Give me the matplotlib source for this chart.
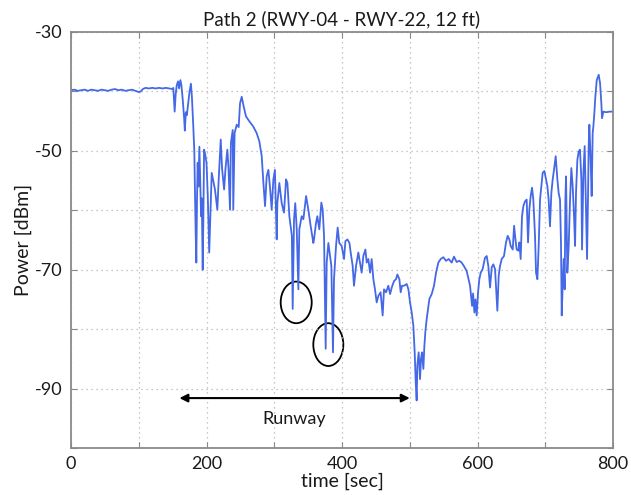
import matplotlib
matplotlib.use("Agg")
import matplotlib.pyplot as plt
from matplotlib.patches import Ellipse

plt.rcParams['font.family'] = ['Lato', 'DejaVu Sans']

title = "Path 2 (RWY-04 - RWY-22, 12 ft)"
xlabel = "time [sec]"
ylabel = "Power [dBm]"

time_s = [0, 5, 10, 15, 20, 25, 30, 35, 40, 45, 50, 55, 60, 65, 70, 75, 80, 85, 90, 95,
          100, 103, 106, 110, 115, 120, 125, 130, 135, 140, 145, 150,
          151, 153, 154.5, 156, 158, 159.5, 161.5, 163, 165, 167, 168, 169.5, 171, 173, 175, 177, 178.5,
          180.5, 182, 183, 184, 185, 186, 187, 188, 189.5, 190.5, 192, 193, 194.4, 195.5, 196.4, 198,
          200, 202, 204, 206, 207.7, 210, 212.5, 214, 216, 218, 221, 223, 226, 228, 230.8, 232.5,
          234.7, 236, 238.7, 239.5, 241.5, 244.6, 247.5, 249.5, 252, 255, 258.3, 263, 269, 274, 278,
          281.5, 284, 286.4, 288.8, 291.3, 294, 296.2, 298.7, 301, 303.6, 304.6, 307.5, 311, 314.4,
          317.4, 319.4, 322.3, 326, 327.2, 329.2, 331, 333.2, 335.6, 337, 340.5, 343, 347, 350.3,
          353.8, 357.7, 358.7, 361.7, 363.6, 366.5, 369.5, 371.5, 373.5, 375.9, 377.4, 379.9, 382.3,
          384.3, 386.7, 388.2, 391.2, 393.6, 396, 399.5, 403, 405, 408, 411, 412.8, 415.8, 417.7,
          420.7, 424.1, 426.6, 429, 431.5, 434.5, 436.5, 438.9, 441.4, 443.8, 446.3, 448.7, 451.2,
          453.7, 457, 460, 462, 465, 468.4, 471, 473.4, 476.8, 479.7, 481.7, 484.7, 486.6, 488.6,
          491.5, 495.5, 498, 500.4, 502.9, 505.3, 507.3, 508.8, 510.2, 511.2, 513.2, 515.2, 516.6,
          518.1, 520.1, 521.6, 523, 525, 527.5, 529, 532.4, 535.8, 538.8, 542.2, 545.7, 549.6, 553.5,
          557.5, 561.9, 565.3, 569.3, 573.2, 576.6, 580, 584, 589, 592, 593.5, 595.4, 597, 598.8,
          600.8, 602.7, 604.7, 607.6, 611, 613.6, 616, 618.5, 621, 623.4, 625.9, 629.3, 631.3, 633.2,
          635.7, 639.1, 642.1, 644.6, 647, 649, 652, 654, 656, 657.8, 660.3, 661.8, 663.7, 665.7,
          667.7, 670.1, 672.6, 674.6, 676.5, 678.5, 680.5, 682.4, 684.9, 686.4, 688.4, 690.3, 692.3,
          694.2, 696.2, 698.7, 701.1, 703.1, 705, 707, 709, 711, 712.9, 715.4, 717.9, 719.8, 721.8,
          723.3, 724.3, 725.7, 727.2, 728.7, 729.7, 730.7, 732.6, 734.6, 736.6, 738.5, 740.5, 742.5,
          744, 745.4, 747.4, 749.4, 751.3, 753.3, 754.3, 756.3, 758.2, 760.2, 761.7, 763.2, 764.1,
          765.1, 767, 768.5, 770, 771, 772.5, 774, 776, 778.9, 780.9, 782.8, 783.8, 785.8, 790, 795, 800]

power_dbm = [-39.8, -39.7, -39.9, -39.8, -39.7, -39.9, -39.7, -39.8, -39.9, -39.7, -39.8, -39.9, -39.7, -39.6, -39.8, -39.7, -39.9, -39.8, -39.7, -39.9,
             -40.1, -40.0, -39.6, -39.4, -39.5, -39.4, -39.5, -39.4, -39.5, -39.4, -39.5, -39.6,
             -39.4, -43.4, -40.5, -39.0, -38.3, -39.5, -38.1, -39.0, -41.5, -44.5, -46.6, -43.5, -44.0, -42.0, -40.0, -38.7, -41.0,
             -45.9, -50.0, -57.0, -63.8, -68.8, -58.0, -52.0, -56.0, -49.3, -54.0, -61.0, -58.0, -70.0, -60.0, -49.8, -50.5,
             -52.0, -58.0, -67.1, -60.0, -53.7, -55.0, -56.5, -58.0, -59.9, -54.8, -48.1, -53.0, -56.5, -53.0, -49.8, -53.0,
             -59.9, -48.7, -46.5, -59.9, -47.0, -45.6, -46.0, -42.0, -40.9, -42.6, -44.2, -45.0, -45.9, -47.0, -48.4,
             -50.9, -55.4, -59.3, -54.3, -53.2, -56.5, -59.9, -54.8, -53.2, -64.9, -58.8, -55.4, -58.8, -60.4,
             -54.8, -55.4, -61.0, -64.3, -76.6, -61.5, -58.8, -63.2, -73.3, -63.2, -61.0, -61.5, -57.6, -59.9,
             -62.7, -65.5, -64.9, -62.1, -61.0, -63.2, -58.7, -59.9, -64.3, -83.3, -68.8, -65.5, -67.7,
             -69.4, -83.9, -71.6, -66.0, -62.9, -65.5, -66.0, -68.2, -65.2, -64.9, -65.5, -67.1, -69.4, -72.7,
             -69.4, -67.1, -68.8, -70.5, -67.7, -66.6, -68.8, -68.2, -70.5, -68.2, -71.6, -73.3, -75.5,
             -74.4, -73.8, -77.7, -73.3, -73.8, -72.7, -74.1, -73.0, -71.9, -71.6, -70.8, -71.6, -73.8, -72.7,
             -72.7, -72.4, -73.3, -75.5, -77.2, -79.4, -83.9, -88.9, -92.0, -86.1, -83.9, -88.4, -85.0,
             -83.9, -86.7, -82.8, -80.5, -78.3, -76.1, -74.9, -74.1, -72.7, -70.5, -68.8, -68.2, -67.9, -68.5,
             -68.2, -68.8, -67.8, -68.7, -68.5, -68.8, -69.4, -70.2, -72.7, -76.1, -74.0, -77.2, -75.0, -77.7,
             -73.8, -71.6, -70.5, -69.9, -68.0, -67.7, -69.4, -73.0, -69.6, -69.1, -69.9, -76.9, -71.0, -69.4,
             -68.2, -67.7, -65.4, -64.3, -64.9, -66.0, -66.6, -62.6, -64.9, -66.6, -66.8, -65.4, -68.2, -61.0,
             -59.3, -58.5, -58.2, -65.4, -59.9, -57.6, -56.2, -58.2, -64.3, -70.5, -71.6, -66.0, -58.2,
             -56.0, -53.7, -53.4, -54.8, -55.9, -58.2, -62.7, -57.1, -54.8, -53.2, -50.9, -54.8, -57.1, -58.2,
             -66.0, -77.7, -72.7, -68.2, -73.3, -58.2, -54.3, -70.5, -66.0, -58.2, -52.9, -56.0, -61.0,
             -66.0, -57.1, -51.5, -50.1, -49.8, -54.8, -66.6, -53.7, -49.2, -59.9, -68.2, -57.1, -49.2,
             -45.6, -51.5, -57.6, -47.0, -45.9, -43.6, -40.8, -38.1, -37.2, -38.6, -42.0, -44.5, -43.4, -43.5, -43.4, -43.4]

x_ticks = [0, 100, 200, 300, 400, 500, 600, 700, 800]
x_tick_labels = ["0", "", "200", "", "400", "", "600", "", "800"]
y_ticks = [-100, -90, -80, -70, -60, -50, -40, -30]
y_tick_labels = ["", "-90", "", "-70", "", "-50", "", "-30"]

# annotations (data coords): circles around the deep fades, runway span
circle_centers = [(332.4, -75.5), (379.8, -82.6)]
circle_sizes = [(45.8, 7.0), (44.3, 7.2)]
runway_span = (160, 500)
runway_level = -91.6
runway_text = "Runway"

fig = plt.figure(figsize=(6.31, 4.95), dpi=100)
ax = fig.add_axes([71/631, 47/495, 542/631, 416/495])

ax.plot(time_s, power_dbm, color='#4468e6', lw=1.3)

ax.set_xlim(0, 800)
ax.set_ylim(-100, -30)
ax.set_xticks(x_ticks)
ax.set_xticklabels(x_tick_labels)
ax.set_yticks(y_ticks)
ax.set_yticklabels(y_tick_labels)
ax.grid(True, linestyle=(0, (1, 3)), color='#b5b5b5', lw=0.9)
ax.tick_params(direction='in', length=4, width=0.8, color='#888888',
               top=True, right=True, labelsize=13, pad=6, labelcolor='#1a1a1a')
for s in ax.spines.values():
    s.set_color('#8a8a8a')
    s.set_linewidth(1.3)

ax.set_title(title, fontsize=13.5, pad=5, color='#1a1a1a')
ax.set_xlabel(xlabel, fontsize=14, labelpad=0, color='#1a1a1a')
ax.set_ylabel(ylabel, fontsize=14, labelpad=2, color='#1a1a1a')

for (cx, cy), (w, h) in zip(circle_centers, circle_sizes):
    ax.add_patch(Ellipse((cx, cy), w, h, fill=False, edgecolor='black', lw=1.3))

ax.annotate('', xy=(runway_span[1], runway_level), xytext=(runway_span[0], runway_level),
            arrowprops=dict(arrowstyle='<|-|>', color='black', lw=1.5, mutation_scale=12,
                            shrinkA=0, shrinkB=0))
ax.text(sum(runway_span)/2, runway_level - 3.6, runway_text, ha='center', va='center',
        fontsize=13, color='#1a1a1a')

fig.savefig('out.png', dpi=100)
